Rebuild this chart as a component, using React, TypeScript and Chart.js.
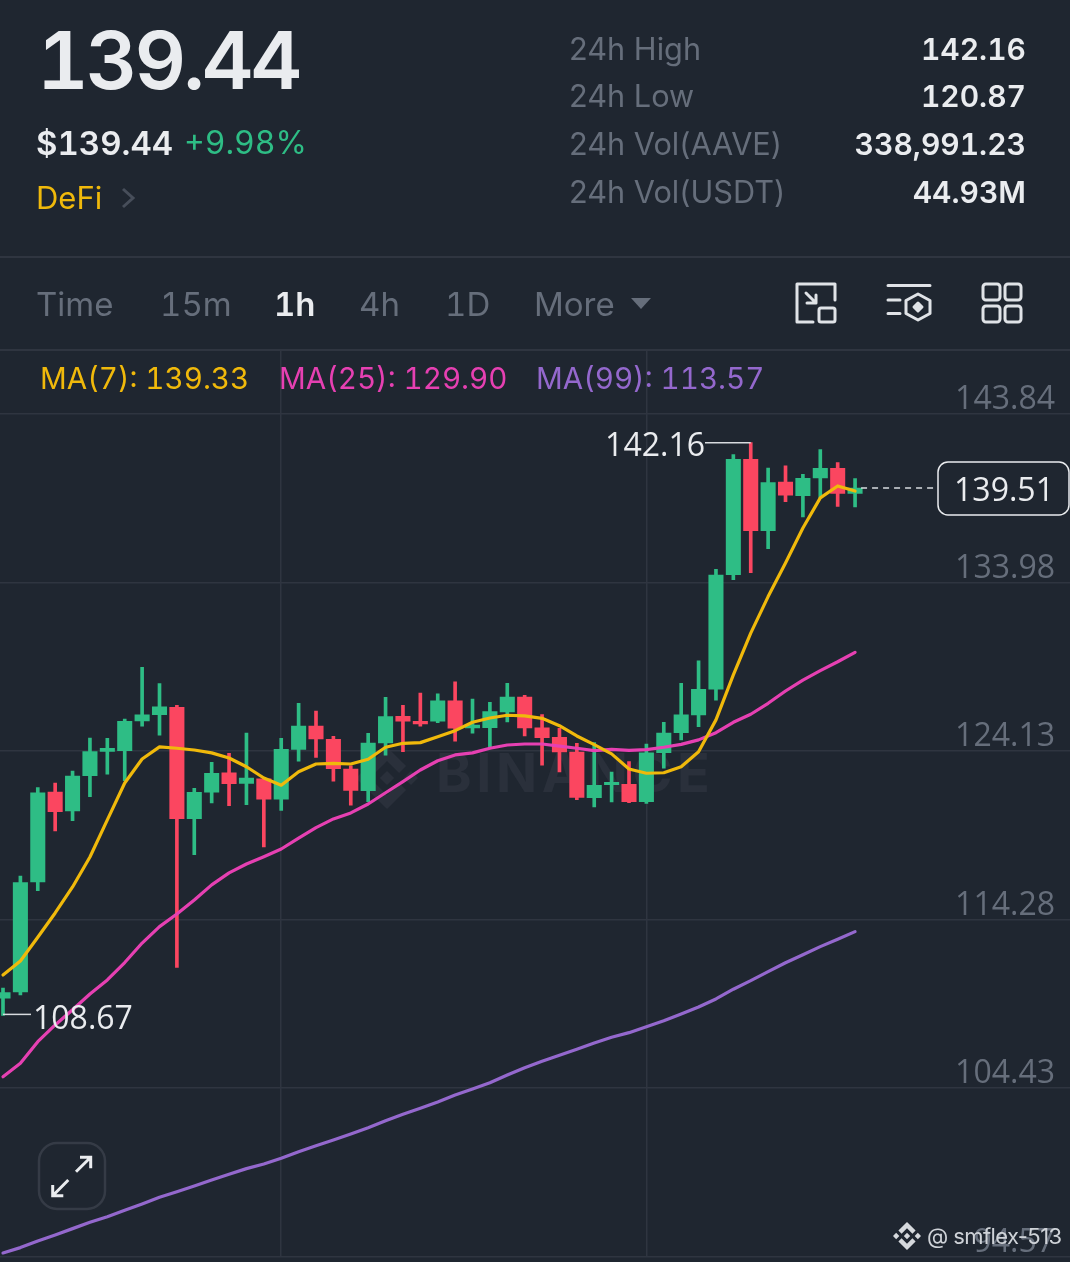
import React, { useEffect, useRef } from "react";
import { Chart, registerables } from "chart.js";

Chart.register(...registerables);

const opens = [109.67,110.04,116.47,121.73,120.62,122.69,124.11,124.15,125.89,126.26,126.69,120.17,121.72,122.85,122.24,122.51,121.31,124.23,125.59,124.82,123.08,121.81,124.60,126.16,125.87,125.87,127.06,125.48,125.50,126.41,127.29,125.48,124.93,124.07,121.40,122.16,122.18,121.17,124.03,125.20,126.24,127.74,134.44,141.19,137.02,139.85,139.06,140.10,140.66,139.20];
const highs = [110.26,116.82,121.99,122.26,122.96,124.89,124.87,125.99,129.03,128.07,126.80,121.95,123.47,124.00,125.18,122.55,124.87,126.92,126.47,124.99,123.26,125.17,127.27,126.80,127.52,127.47,128.17,127.17,126.98,128.09,127.39,126.26,125.46,124.58,124.62,122.90,123.51,124.54,125.81,128.09,129.40,134.76,141.46,142.16,140.68,140.80,140.31,141.75,140.99,140.06];
const lows = [108.67,109.86,115.96,119.45,120.06,121.46,122.77,122.40,125.58,125.05,111.48,118.07,121.09,120.93,120.99,118.52,120.66,123.53,123.76,122.36,120.97,121.17,123.88,124.09,125.58,125.79,124.70,125.17,124.35,125.83,125.01,123.30,122.90,121.28,120.86,121.15,121.11,121.07,123.12,124.78,125.55,127.10,134.15,134.56,135.96,138.71,137.82,138.93,138.44,138.40];
const closes = [110.00,116.43,121.69,120.58,122.67,124.09,124.29,125.87,126.24,126.71,120.17,121.72,122.83,122.22,122.55,121.31,124.23,125.59,124.83,123.10,121.83,124.60,126.14,125.87,125.71,127.06,125.46,125.64,126.43,127.29,125.48,124.91,124.07,121.42,122.13,122.30,121.17,124.03,125.18,126.24,127.74,134.42,141.19,137.02,139.82,139.09,140.08,140.66,139.20,139.51];
const ma7 = [111.03,111.85,113.24,114.66,116.18,117.93,120.10,122.26,123.66,124.37,124.29,124.19,124.02,123.72,123.21,122.55,122.13,122.92,123.37,123.41,123.37,123.65,124.35,124.58,124.62,124.97,125.32,125.81,126.06,126.22,126.18,126.04,125.61,125.01,124.50,123.96,123.08,122.83,122.86,123.21,124.09,125.95,128.58,131.02,133.16,135.13,137.17,138.93,139.63,139.33];
const ma25 = [105.08,105.87,107.13,108.11,109.00,109.92,110.74,111.76,112.90,113.86,114.60,115.42,116.30,117.00,117.52,117.95,118.40,119.04,119.65,120.16,120.51,121.03,121.69,122.34,123.02,123.56,123.90,124.02,124.29,124.48,124.54,124.54,124.42,124.29,124.15,124.23,124.17,124.21,124.35,124.52,124.78,125.20,125.81,126.28,126.92,127.64,128.28,128.83,129.35,129.90];
const ma99 = [94.78,95.09,95.48,95.83,96.20,96.57,96.90,97.27,97.64,98.03,98.36,98.69,99.04,99.38,99.71,99.98,100.31,100.70,101.05,101.38,101.73,102.10,102.51,102.89,103.24,103.61,104.01,104.37,104.73,105.18,105.61,105.99,106.34,106.69,107.06,107.39,107.66,108.01,108.36,108.75,109.16,109.63,110.20,110.70,111.23,111.75,112.22,112.69,113.12,113.57];
const priceTicks = [143.84,133.98,124.13,114.28,104.43,94.57];
const gridCandles = [16,37];

const HIGH_INDEX = 43;
const HIGH_VALUE = 142.16;
const LOW_INDEX = 0;
const LOW_VALUE = 108.67;
const LAST_PRICE = 139.51;

const statRows = [
  ["24h High","142.16"],
  ["24h Low","120.87"],
  ["24h Vol(AAVE)","338,991.23"],
  ["24h Vol(USDT)","44.93M"],
];
const FONT = "Inter, 'Noto Sans', sans-serif";
const NUM_FONT = "'Open Sans', 'Noto Sans', sans-serif";
const BG = "#1f2630";
const GREEN = "#2ebd85";
const RED = "#fb4660";
const YELLOW = "#f0b90b";
const MAGENTA = "#e640b2";
const PURPLE = "#9468cd";
const TEXT = "#eaecef";
const MUTED = "#666e7b";
const GRID = "#2f3540";
const LOGO = "M38.73 53.2l24.59-24.58 24.6 24.6 14.3-14.31L63.32 0 24.42 38.9zM0 63.31l14.3-14.31 14.31 14.31-14.31 14.3zM38.73 73.41l24.59 24.59 24.6-24.6 14.31 14.29-38.9 38.91-38.91-38.88zM98 63.31l14.3-14.31 14.31 14.3-14.31 14.32zM77.83 63.3L63.32 48.78 52.59 59.51l-1.24 1.23-2.54 2.54 14.51 14.5 14.51-14.47z";

const annotations = {
  id: "annotations",
  afterDatasetsDraw(chart: any) {
    const { ctx, scales } = chart;
    const x = scales.x, y = scales.y;
    ctx.save();
    ctx.font = `400 32px ${NUM_FONT}`;
    ctx.textBaseline = "middle";
    ctx.fillStyle = TEXT;
    ctx.strokeStyle = "#d8dbdf";
    ctx.lineWidth = 1.5;

    const hy = y.getPixelForValue(HIGH_VALUE);
    const hx = x.getPixelForValue(HIGH_INDEX);
    ctx.beginPath(); ctx.moveTo(hx, hy); ctx.lineTo(705, hy); ctx.stroke();
    ctx.textAlign = "right";
    ctx.fillText(HIGH_VALUE.toFixed(2), 705, hy + 4);

    const ly = y.getPixelForValue(LOW_VALUE) - 1;
    const lx = x.getPixelForValue(LOW_INDEX);
    ctx.beginPath(); ctx.moveTo(lx, ly); ctx.lineTo(31, ly); ctx.stroke();
    ctx.textAlign = "left";
    ctx.fillText(LOW_VALUE.toFixed(2), 33, ly + 6);

    const py = y.getPixelForValue(LAST_PRICE);
    ctx.setLineDash([6, 5]);
    ctx.beginPath(); ctx.moveTo(x.getPixelForValue(49) + 6, py); ctx.lineTo(938, py); ctx.stroke();
    ctx.setLineDash([]);
    ctx.fillStyle = BG;
    ctx.strokeStyle = "#eaecef";
    ctx.beginPath(); ctx.roundRect(938, py - 26, 131, 53, 10); ctx.fill(); ctx.stroke();
    ctx.fillStyle = TEXT;
    ctx.textAlign = "center";
    ctx.fillText(LAST_PRICE.toFixed(2), 1004, py + 4);
    ctx.restore();
  },
};

const flatten = (s: any) => {
  s.paddingLeft = s.paddingRight = s.paddingTop = s.paddingBottom = 0;
  if (s.axis === "y") s.width = 0; else s.height = 0;
};

function CandleChart() {
  const ref = useRef<HTMLCanvasElement | null>(null);
  useEffect(() => {
    const up = (i: number) => closes[i] >= opens[i];
    const colour = (c: any) => (up(c.dataIndex) ? GREEN : RED);
    const line = (label: string, values: number[], color: string, order: number) => ({
      type: "line" as const,
      label,
      data: values.map((v, i) => ({ x: i, y: v })),
      borderColor: color,
      borderWidth: 3.2,
      pointRadius: 0,
      tension: 0,
      borderJoinStyle: "round" as const,
      borderCapStyle: "round" as const,
      order,
    });
    const chart = new Chart(ref.current as HTMLCanvasElement, {
      type: "bar",
      data: {
        datasets: [
          line("MA(7)", ma7, YELLOW, 1),
          line("MA(25)", ma25, MAGENTA, 2),
          line("MA(99)", ma99, PURPLE, 3),
          {
            label: "body",
            data: opens.map((o, i) => ({ x: i, y: [o, closes[i]] })),
            backgroundColor: colour,
            barThickness: 14.4,
            grouped: false,
            order: 4,
          },
          {
            label: "wick",
            data: lows.map((l, i) => ({ x: i, y: [l, highs[i]] })),
            backgroundColor: colour,
            barThickness: 3,
            grouped: false,
            order: 5,
          },
        ] as any,
      },
      options: {
        responsive: false,
        animation: false,
        devicePixelRatio: 1,
        layout: { padding: { top: 350, bottom: 5.5, left: 0, right: 0 } },
        plugins: { legend: { display: false }, tooltip: { enabled: false } },
        scales: {
          x: {
            type: "linear",
            min: -0.1725,
            max: 61.36,
            offset: false,
            border: { display: false },
            grid: { color: GRID, lineWidth: 1.5, drawTicks: false, offset: false },
            ticks: { display: false },
            afterBuildTicks: (s: any) => { s.ticks = gridCandles.map((v) => ({ value: v })); },
            afterFit: flatten,
          },
          y: {
            type: "linear",
            position: "right",
            min: 94.57,
            max: 147.58,
            border: { display: false },
            grid: { color: GRID, lineWidth: 1.5, drawTicks: false },
            ticks: {
              mirror: true,
              padding: -15,
              labelOffset: -14,
              autoSkip: false,
              color: MUTED,
              font: { family: NUM_FONT, size: 32, weight: 400 },
              callback: (v: any) => Number(v).toFixed(2),
            },
            afterBuildTicks: (s: any) => { s.ticks = priceTicks.map((v) => ({ value: v })); },
            afterFit: flatten,
          },
        },
      } as any,
      plugins: [annotations],
    });
    return () => chart.destroy();
  }, []);
  return <canvas ref={ref} width={1070} height={1262} style={{ position: "absolute", left: 0, top: 0, display: "block" }} />;
}

function T(p: { x: number; y: number; s: string; size?: number; color?: string; w?: number; right?: boolean; ls?: number; tab?: boolean }) {
  const { x, y, s, size = 31, color = TEXT, w = 400, right, ls = 0, tab } = p;
  const pos: any = right ? { right: 1070 - x } : { left: x };
  return (
    <div style={{ position: "absolute", top: y, ...pos, transform: "translateY(-50%)", fontSize: size, color, fontWeight: w, letterSpacing: ls, lineHeight: 1, whiteSpace: "nowrap", fontFamily: FONT, fontVariantNumeric: tab ? "tabular-nums" : "normal" }}>{s}</div>
  );
}

const Rule = ({ y }: { y: number }) => <div style={{ position: "absolute", left: 0, top: y, width: 1070, height: 2, background: GRID }} />;

export default function App() {
  const rowY = [49, 96, 144, 192];
  const tabs: [string, number, boolean][] = [["Time",36,false],["15m",160,false],["1h",274,true],["4h",359,false],["1D",445,false],["More",534,false]];
  return (
    <div style={{ position: "absolute", left: 0, top: 0, width: 1070, height: 1262, background: BG, overflow: "hidden", fontFamily: FONT }}>
      {/* watermark below the chart */}
      <svg style={{ position: "absolute", left: 356, top: 747 }} width={62} height={62} viewBox="0 0 126.61 126.61"><path d={LOGO} fill="#2a303b" /></svg>
      <T x={436} y={773} s="BINANCE" size={54} w={700} color="#2a303b" ls={4.6} />
      <CandleChart />

      <T x={37} y={60} s="139.44" size={80} w={600} ls={-3} tab />
      <T x={36} y={142.5} s="$139.44" size={33} w={600} tab />
      <T x={184} y={142.5} s="+9.98%" size={32} color={GREEN} tab />
      <T x={36} y={197} s="DeFi" size={31} color={YELLOW} />
      <svg style={{ position: "absolute", left: 118, top: 184 }} width={20} height={28}><path d="M5 5 L15 14 L5 23" fill="none" stroke="#474e5a" strokeWidth={3} /></svg>

      {statRows.map((r, i) => <React.Fragment key={r[0]}>
        <T x={569} y={rowY[i]} s={r[0]} size={30.7} color={MUTED} />
        <T x={1026} y={rowY[i]} s={r[1]} size={30} right w={600} tab />
      </React.Fragment>)}

      <Rule y={256} />
      {tabs.map(([s, x, on]) => <T key={s} x={x} y={304} s={s} size={33} color={on ? TEXT : MUTED} w={on ? 600 : 400} tab />)}
      <svg style={{ position: "absolute", left: 620, top: 290 }} width={40} height={28}><path d="M11 8 H31 L21 19 Z" fill={MUTED} /></svg>

      <svg style={{ position: "absolute", left: 0, top: 270 }} width={1070} height={70} viewBox="0 270 1070 70" fill="none" stroke="#e0e3e7" strokeWidth={3} strokeLinecap="round" strokeLinejoin="round">
        <path d="M835 300 V284 H797 V322 H813" />
        <rect x={819} y={308} width={16} height={14} rx={2} />
        <path d="M806 293 L816 303 M807 303 H816 V295" />
        <path d="M888 285.5 H930 M888 300 H900 M888 313.5 H900" />
        <path d="M918 294 L930 300.5 V313.5 L918 320 L906 313.5 V300.5 Z" />
        <path d="M918 303 L922 307 L918 311 L914 307 Z" fill="#e0e3e7" />
        <rect x={983} y={284} width={17} height={16} rx={3} />
        <rect x={1005} y={284} width={16} height={16} rx={3} />
        <rect x={983} y={306} width={17} height={16} rx={3} />
        <rect x={1005} y={306} width={16} height={16} rx={3} />
      </svg>

      <Rule y={349} />
      <T x={40} y={379} s="MA(7): 139.33" size={29.6} color={YELLOW} tab />
      <T x={279} y={379} s="MA(25): 129.90" size={29.6} color={MAGENTA} tab />
      <T x={536} y={379} s="MA(99): 113.57" size={29.6} color={PURPLE} tab />

      <svg style={{ position: "absolute", left: 0, top: 1130 }} width={120} height={90} viewBox="0 1130 120 90" fill="none">
        <rect x={39} y={1143} width={66} height={66} rx={18} stroke="#353b46" strokeWidth={2.5} />
        <path d="M76 1171.7 L90.7 1157.3 M80 1157.3 H90.7 V1168.3 M68.3 1180 L52.7 1195.7 M52.7 1185 V1195.7 H63.3" stroke="#eaecef" strokeWidth={3} />
      </svg>

      <svg style={{ position: "absolute", left: 893, top: 1222 }} width={28} height={28} viewBox="0 0 126.61 126.61"><path d={LOGO} fill="#d6d9dd" /></svg>
      <T x={927} y={1236} s="@ smflex-513" size={22} color="#cfd3d8" ls={-0.6} />
    </div>
  );
}
